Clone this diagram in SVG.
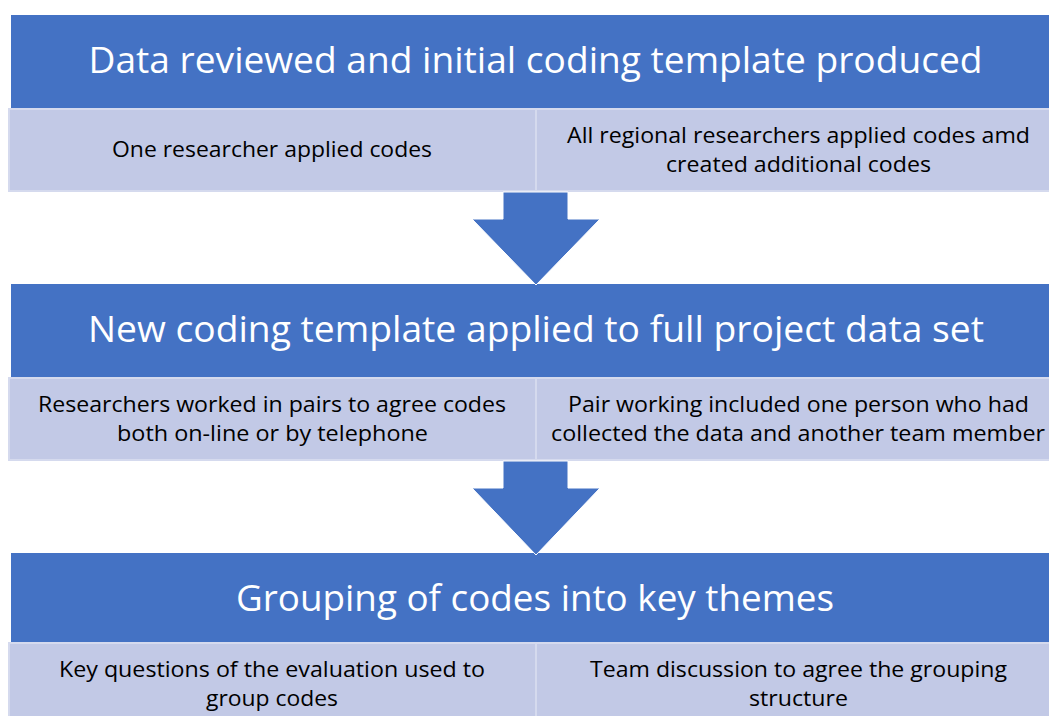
<svg xmlns="http://www.w3.org/2000/svg" width="1049" height="716" viewBox="0 0 1049 716">
  <style>
    .head { fill: #4472c4; }
    .cell { fill: #c2c9e6; stroke: #d5daee; stroke-width: 2; }
    .arrow { fill: #4472c4; stroke: #ffffff; stroke-width: 1; }
    .ht { font-family: "Open Sans", "Liberation Sans", sans-serif; font-size: 36px; fill: #ffffff; text-anchor: middle; }
    .bt { font-family: "Open Sans", "Liberation Sans", sans-serif; font-size: 22px; fill: #000000; text-anchor: middle; }
  </style>
  <rect width="1049" height="716" fill="#ffffff"/>

  <!-- stage 1 -->
  <g id="stage1-head">
    <rect class="head" x="11" y="15" width="1060" height="93"/>
    <text class="ht" x="535.5" y="73" textLength="894" lengthAdjust="spacingAndGlyphs">Data reviewed and initial coding template produced</text>
  </g>
  <g id="stage1-left">
    <rect class="cell" x="9" y="109" width="527" height="82"/>
    <text class="bt" x="272" y="157" textLength="320" lengthAdjust="spacingAndGlyphs">One researcher applied codes</text>
  </g>
  <g id="stage1-right">
    <rect class="cell" x="536" y="109" width="525" height="82"/>
    <text class="bt" x="798.5" y="143" textLength="463" lengthAdjust="spacingAndGlyphs">All regional researchers applied codes amd</text>
    <text class="bt" x="798.5" y="172" textLength="265" lengthAdjust="spacingAndGlyphs">created additional codes</text>
  </g>

  <!-- stage 2 -->
  <g id="stage2-head">
    <rect class="head" x="11" y="284" width="1060" height="93"/>
    <text class="ht" x="536" y="342" textLength="896" lengthAdjust="spacingAndGlyphs">New coding template applied to full project data set</text>
  </g>
  <g id="stage2-left">
    <rect class="cell" x="9" y="378" width="527" height="82"/>
    <text class="bt" x="272" y="412" textLength="468" lengthAdjust="spacingAndGlyphs">Researchers worked in pairs to agree codes</text>
    <text class="bt" x="272.5" y="441" textLength="311" lengthAdjust="spacingAndGlyphs">both on-line or by telephone</text>
  </g>
  <g id="stage2-right">
    <rect class="cell" x="536" y="378" width="525" height="82"/>
    <text class="bt" x="798.5" y="412" textLength="461" lengthAdjust="spacingAndGlyphs">Pair working included one person who had</text>
    <text class="bt" x="798" y="441" textLength="494" lengthAdjust="spacingAndGlyphs">collected the data and another team member</text>
  </g>

  <!-- stage 3 -->
  <g id="stage3-head">
    <rect class="head" x="11" y="553" width="1060" height="89"/>
    <text class="ht" x="535" y="611" textLength="598" lengthAdjust="spacingAndGlyphs">Grouping of codes into key themes</text>
  </g>
  <g id="stage3-left">
    <rect class="cell" x="9" y="643" width="527" height="82"/>
    <text class="bt" x="272" y="677" textLength="426" lengthAdjust="spacingAndGlyphs">Key questions of the evaluation used to</text>
    <text class="bt" x="272" y="706" textLength="132" lengthAdjust="spacingAndGlyphs">group codes</text>
  </g>
  <g id="stage3-right">
    <rect class="cell" x="536" y="643" width="525" height="82"/>
    <text class="bt" x="798.5" y="677" textLength="417" lengthAdjust="spacingAndGlyphs">Team discussion to agree the grouping</text>
    <text class="bt" x="798.5" y="706" textLength="99" lengthAdjust="spacingAndGlyphs">structure</text>
  </g>

  <!-- block arrows between stages -->
  <g id="connectors">
    <polygon class="arrow" points="503,192 568,192 568,219 600,219 536,285 472,219 503,219"/>
    <polygon class="arrow" points="503,461 568,461 568,488 600,488 536,555 472,488 503,488"/>
  </g>
</svg>
